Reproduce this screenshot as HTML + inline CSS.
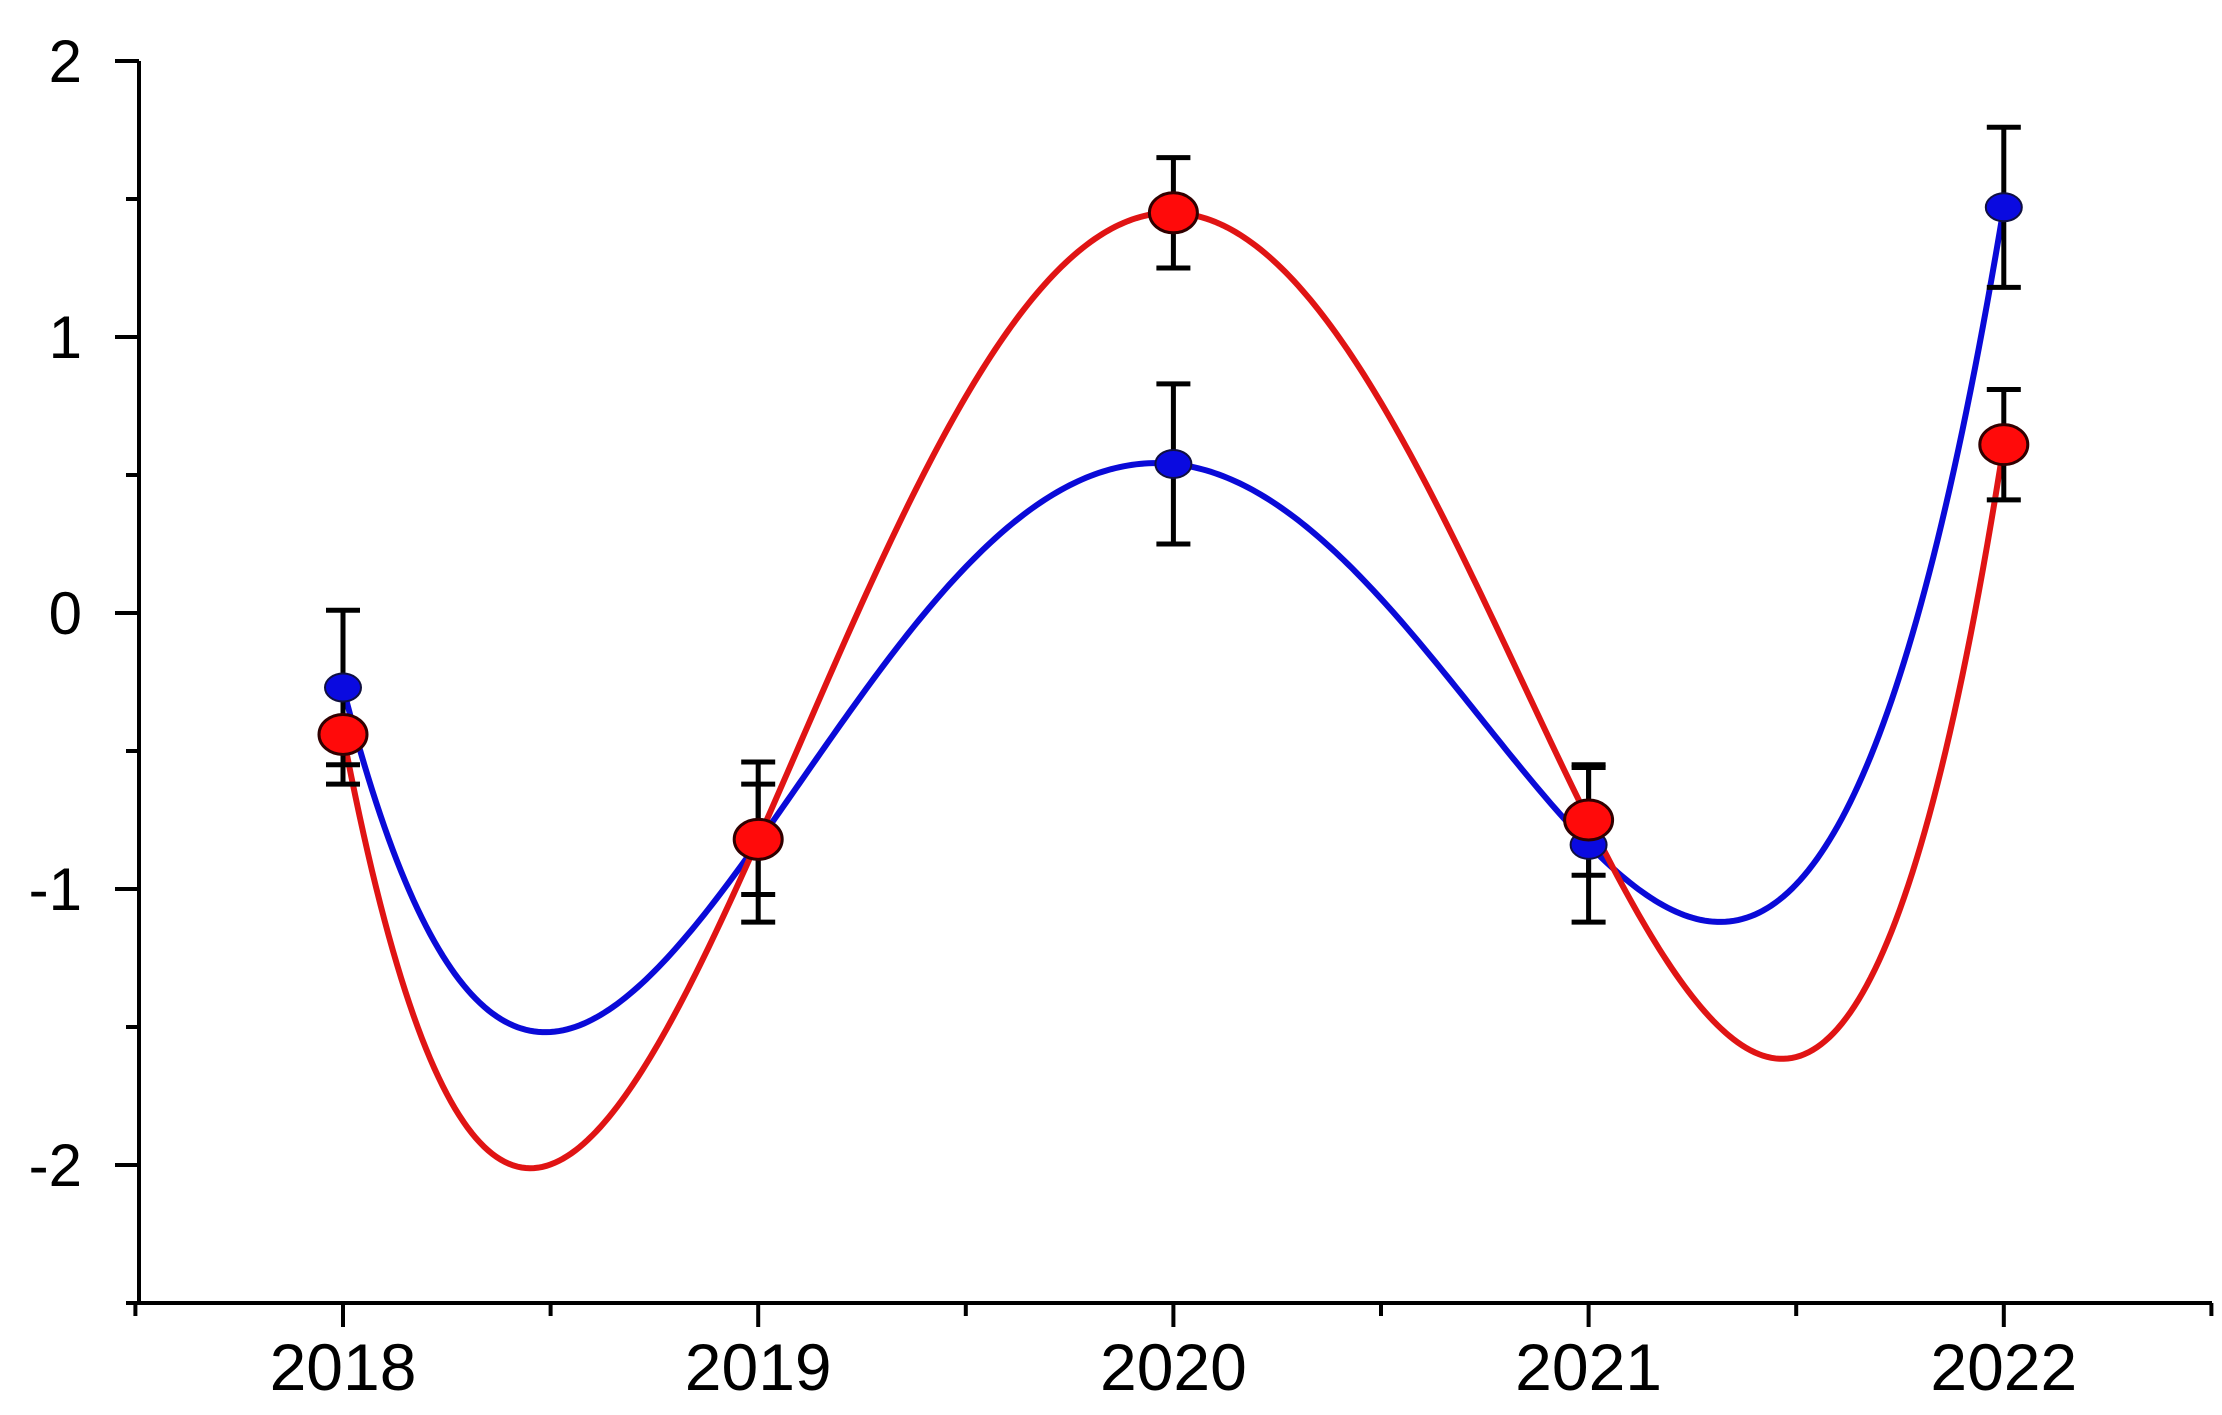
<!DOCTYPE html>
<html><head><meta charset="utf-8"><style>
html,body{margin:0;padding:0;background:#fff;}
svg{display:block;font-family:"Liberation Sans",Arial,sans-serif;}
</style></head><body>
<svg id="chart" width="2222" height="1415" viewBox="0 0 2222 1415" xmlns="http://www.w3.org/2000/svg">
<g id="axes"></g>
<g id="curves"></g>
<g id="points"></g>
</svg>
<script>
const years = [2018, 2019, 2020, 2021, 2022];
const blueValues = [-0.27, -0.83, 0.54, -0.84, 1.47];
const blueErrors = [0.28, 0.29, 0.29, 0.28, 0.29];
const redValues = [-0.44, -0.82, 1.45, -0.75, 0.61];
const redErrors = [0.18, 0.2, 0.2, 0.2, 0.2];
const yTicks = [-2, -1, 0, 1, 2];
const yMinorTicks = [-2.5, -1.5, -0.5, 0.5, 1.5];
const xMinorTicks = [2017.5, 2018.5, 2019.5, 2020.5, 2021.5, 2022.5];

const NS = "http://www.w3.org/2000/svg";
const X0 = 139, XR = 2212;
const xScale = v => 343 + (v - 2018) * 415.2;
const yScale = v => 613 - v * 276;
function mk(tag, attrs, parent) {
  const e = document.createElementNS(NS, tag);
  for (const k in attrs) e.setAttribute(k, attrs[k]);
  parent.appendChild(e);
  return e;
}
const axes = document.getElementById('axes');
const curves = document.getElementById('curves');
const points = document.getElementById('points');

let el = mk('line', {x1: X0, y1: yScale(2), x2: X0, y2: yScale(-2.5), stroke: '#000', 'stroke-width': 4}, axes);


el = mk('line', {x1: X0 - 2, y1: yScale(-2.5), x2: XR, y2: yScale(-2.5), stroke: '#000', 'stroke-width': 4}, axes);



yTicks.forEach(t => {
  const y = yScale(t);
  let tk = mk('line', {x1: X0 - 24, y1: y, x2: X0, y2: y, stroke: '#000', 'stroke-width': 4}, axes);
  
  
  let lb = mk('text', {x: 82, y: y + 21, 'text-anchor': 'end', 'font-size': 60}, axes);
  lb.textContent = String(t);
  
  
});
yMinorTicks.forEach(t => {
  const y = yScale(t);
  let tk = mk('line', {x1: X0 - 13, y1: y, x2: X0, y2: y, stroke: '#000', 'stroke-width': 4}, axes);
  
  
});
const yb = yScale(-2.5);
years.forEach(t => {
  const x = xScale(t);
  let tk = mk('line', {x1: x, y1: yb, x2: x, y2: yb + 24, stroke: '#000', 'stroke-width': 4}, axes);
  
  
  let lb = mk('text', {x: x, y: 1390, 'text-anchor': 'middle', 'font-size': 66}, axes);
  lb.textContent = String(t);
  
  
});
xMinorTicks.forEach(t => {
  const x = xScale(t);
  let tk = mk('line', {x1: x, y1: yb, x2: x, y2: yb + 13, stroke: '#000', 'stroke-width': 4}, axes);
  
  
});

function lagrange(xs, ys, x) {
  let s = 0;
  for (let i = 0; i < xs.length; i++) {
    let l = 1;
    for (let j = 0; j < xs.length; j++) if (j !== i) l *= (x - xs[j]) / (xs[i] - xs[j]);
    s += ys[i] * l;
  }
  return s;
}
function curve(vals, color, name) {
  let d = '';
  const n = 400;
  for (let i = 0; i <= n; i++) {
    const x = years[0] + (years[years.length - 1] - years[0]) * i / n;
    d += (i ? 'L' : 'M') + xScale(x).toFixed(2) + ',' + yScale(lagrange(years, vals, x)).toFixed(2);
  }
  const p = mk('path', {d: d, fill: 'none', stroke: color, 'stroke-width': 6}, curves);
  
  
}
curve(blueValues, '#0a0ad8', 'blue-fit-curve');
curve(redValues, '#e01414', 'red-fit-curve');

function errBars(vals, errs, name) {
  vals.forEach((v, i) => {
    const x = xScale(years[i]);
    const g = mk('g', {stroke: '#000', 'stroke-width': 5}, points);
    
    
    mk('line', {x1: x, y1: yScale(v + errs[i]), x2: x, y2: yScale(v - errs[i])}, g);
    mk('line', {x1: x - 17, y1: yScale(v + errs[i]), x2: x + 17, y2: yScale(v + errs[i])}, g);
    mk('line', {x1: x - 17, y1: yScale(v - errs[i]), x2: x + 17, y2: yScale(v - errs[i])}, g);
  });
}
errBars(blueValues, blueErrors, 'blue-error-bar');
errBars(redValues, redErrors, 'red-error-bar');

blueValues.forEach((v, i) => {
  const m = mk('ellipse', {cx: xScale(years[i]), cy: yScale(v), rx: 18, ry: 14, fill: '#0a0ae0', stroke: '#101040', 'stroke-width': 2}, points);
  
  
});
redValues.forEach((v, i) => {
  const m = mk('ellipse', {cx: xScale(years[i]), cy: yScale(v), rx: 24, ry: 20, fill: '#ff0a0a', stroke: '#300000', 'stroke-width': 3}, points);
  
  
});
</script>
</body></html>
